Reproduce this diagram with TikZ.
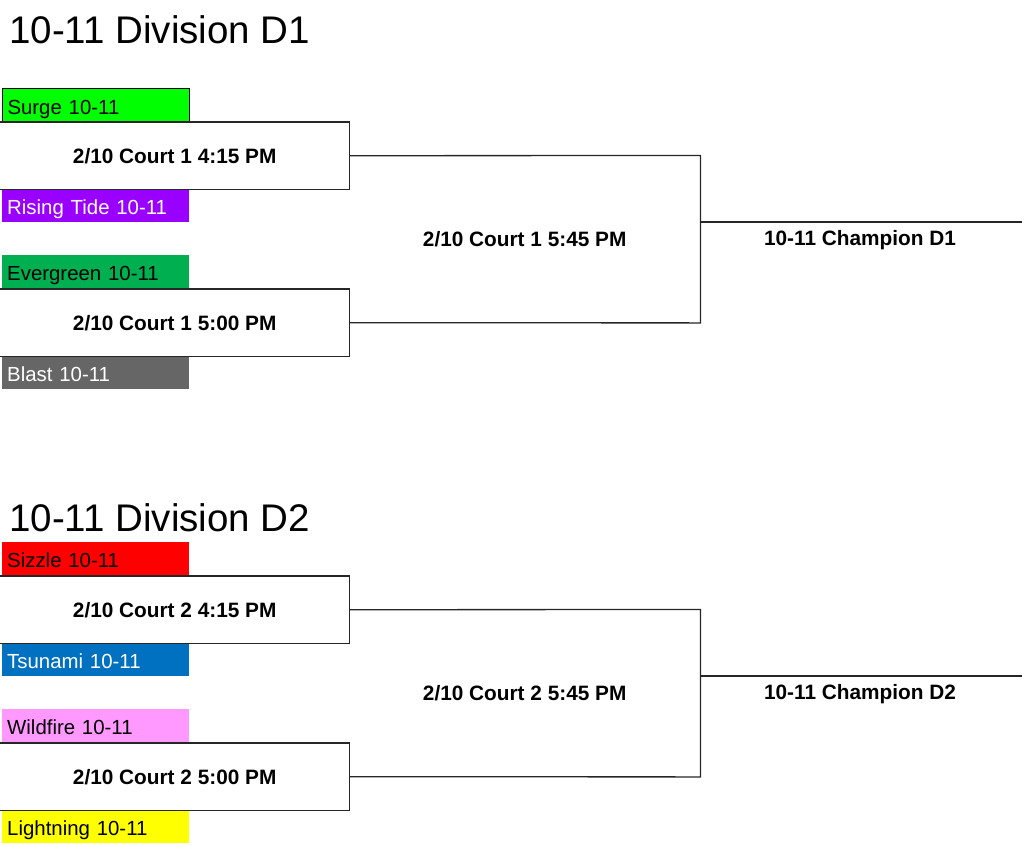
\documentclass[tikz,border=0pt]{standalone}
\usepackage{fontspec}
\setmainfont{Liberation Sans}
\definecolor{cSurge}{RGB}{0,255,0}
\definecolor{cRising}{RGB}{153,0,255}
\definecolor{cEver}{RGB}{0,176,80}
\definecolor{cBlast}{RGB}{102,102,102}
\definecolor{cSizzle}{RGB}{255,0,0}
\definecolor{cTsunami}{RGB}{0,112,192}
\definecolor{cWild}{RGB}{255,153,255}
\definecolor{cLight}{RGB}{255,255,0}
\tikzset{
  team/.style={rectangle, minimum width=187pt, minimum height=33pt, inner xsep=5pt, inner ysep=0pt, text width=177pt, text height=18pt, text depth=0pt, align=left, font=\fontsize{20.4}{22}\selectfont, anchor=north west},
  matchbox/.style={rectangle, minimum width=349pt, minimum height=67pt, inner sep=0pt, font=\bfseries\fontsize{20.8}{22}\selectfont, anchor=north west},
  finalbox/.style={rectangle, minimum width=351pt, minimum height=167pt, inner sep=0pt, font=\bfseries\fontsize{20.8}{22}\selectfont, anchor=north west},
  champ/.style={inner sep=0pt, font=\bfseries\fontsize{20.8}{22}\selectfont},
  title/.style={inner sep=0pt, anchor=base west, font=\fontsize{38.5}{42}\selectfont},
  bline/.style={draw=black!85, line width=1.3pt},
}
\begin{document}
\begin{tikzpicture}[x=1pt,y=-1pt]
\useasboundingbox (0,0) rectangle (1024,846);
% ---------- Division D1 ----------
\node[title] (t1) at (9,43) {10-11 Division D1};
\node[team, fill=cSurge, draw=black, line width=1pt] (s1) at (2,88) {Surge 10-11};
\node[matchbox] (m1) at (0,122) {2/10 Court 1 4:15 PM};
\node[team, fill=cRising, text=white] (r1) at (2,189) {Rising Tide 10-11};
\node[team, fill=cEver] (e1) at (2,255) {Evergreen 10-11};
\node[matchbox] (m2) at (0,289) {2/10 Court 1 5:00 PM};
\node[team, fill=cBlast, text=white] (b1) at (2,356) {Blast 10-11};
\node[finalbox] (f1) at (349,155.5) {2/10 Court 1 5:45 PM};
\coordinate (end1) at (1022,222);
\node[champ] (c1) at (860,240) {10-11 Champion D1};
\draw[bline] (m1.north west) -- (m1.north east) -- (m1.south east) -- (m1.south west);
\draw[bline] (m2.north west) -- (m2.north east) -- (m2.south east) -- (m2.south west);
\draw[bline] (m1.east) -- (f1.north east) -- (f1.south east) -- (m2.east);
\draw[bline] (end1 -| f1.east) -- (end1);
% ---------- Division D2 ----------
\node[title] (t2) at (9,531) {10-11 Division D2};
\node[team, fill=cSizzle] (s2) at (2,542) {Sizzle 10-11};
\node[matchbox] (m3) at (0,576) {2/10 Court 2 4:15 PM};
\node[team, fill=cTsunami, text=white] (ts2) at (2,643) {Tsunami 10-11};
\node[team, fill=cWild] (w2) at (2,709) {Wildfire 10-11};
\node[matchbox] (m4) at (0,743) {2/10 Court 2 5:00 PM};
\node[team, fill=cLight] (l2) at (2,810) {Lightning 10-11};
\node[finalbox] (f2) at (349,609.5) {2/10 Court 2 5:45 PM};
\coordinate (end2) at (1022,676);
\node[champ] (c2) at (860,694) {10-11 Champion D2};
\draw[bline] (m3.north west) -- (m3.north east) -- (m3.south east) -- (m3.south west);
\draw[bline] (m4.north west) -- (m4.north east) -- (m4.south east) -- (m4.south west);
\draw[bline] (m3.east) -- (f2.north east) -- (f2.south east) -- (m4.east);
\draw[bline] (end2 -| f2.east) -- (end2);
\end{tikzpicture}
\end{document}
